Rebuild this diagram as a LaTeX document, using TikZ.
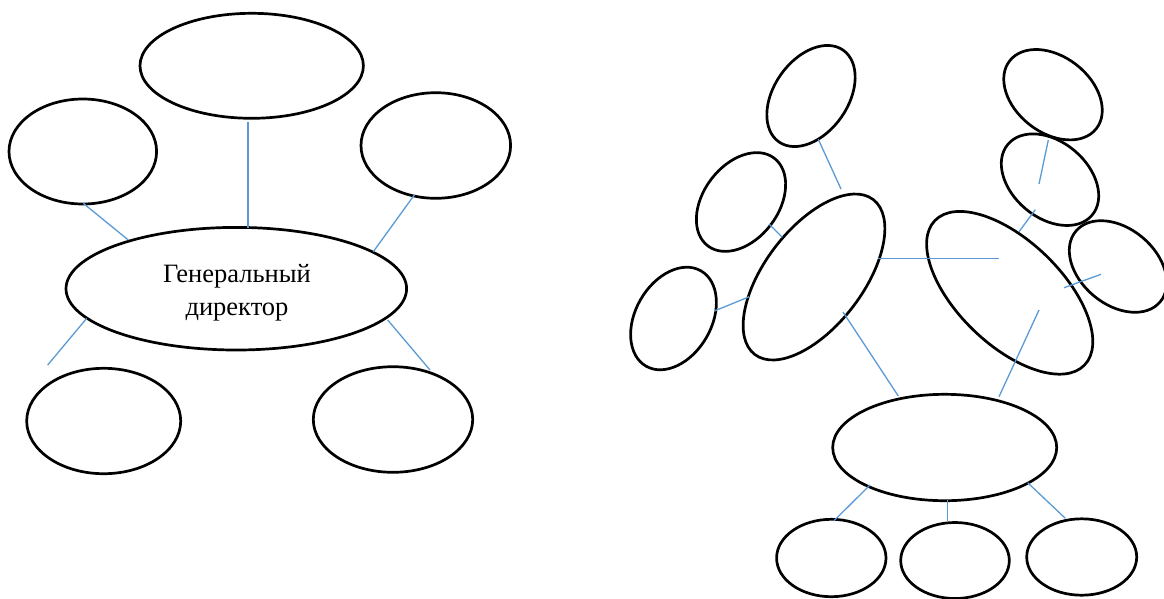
\documentclass[tikz,border=0pt]{standalone}
\usepackage{fontspec}
\setmainfont{Liberation Serif}
\usetikzlibrary{shapes.geometric}

\definecolor{linkblue}{HTML}{5B9BD5}

\tikzset{
  oval/.style={draw=black, line width=2.7pt, ellipse, inner sep=0pt,
               minimum width=#1},
  link/.style={draw=linkblue, line width=1.3pt},
  label/.style={font=\fontsize{26.5}{33}\selectfont, align=center, inner sep=0pt}
}

\begin{document}
\begin{tikzpicture}[x=1pt, y=-1pt]
  \fill[white] (0,0) rectangle (1164,598);
  \useasboundingbox (0,0) rectangle (1164,598);

  % ---- left group: general director and his units ----
  \node[oval=223.4pt, minimum height=105pt] (lt)  at (251.7,65.8)  {};
  \node[oval=147.6pt, minimum height=105pt] (ltl) at (82.8,151.5)  {};
  \node[oval=149.6pt, minimum height=105.6pt] (ltr) at (435.8,145.5) {};
  \node[oval=340.6pt, minimum height=122.6pt] (gd) at (236.3,288.7) {};
  \node[label] (gdtext) at (237,292.5) {Генеральный\\директор};
  \node[oval=154pt, minimum height=105.4pt] (lbl) at (103.7,421) {};
  \node[oval=159.4pt, minimum height=105.6pt] (lbr) at (393,419.5) {};

  \coordinate (a1) at (248,122.3);   \coordinate (a2) at (248,227.7);
  \coordinate (b1) at (83.3,203.3);  \coordinate (b2) at (128.3,240);
  \coordinate (c1) at (414.3,195);   \coordinate (c2) at (373.3,251.7);
  \coordinate (d1) at (86.7,318.3);  \coordinate (d2) at (47.7,365);
  \coordinate (e1) at (387.7,320);   \coordinate (e2) at (430,370);
  \draw[link] (a1) -- (a2);
  \draw[link] (b1) -- (b2);
  \draw[link] (c1) -- (c2);
  \draw[link] (d1) -- (d2);
  \draw[link] (e1) -- (e2);

  % ---- right group ----
  % left branch
  \node[oval=112pt, minimum height=74pt, rotate=55] (r1) at (811,96)    {};
  \node[oval=110pt, minimum height=75pt, rotate=53] (r2) at (741,202)   {};
  \node[oval=110pt, minimum height=76pt, rotate=60] (r3) at (673.5,318.5) {};
  \node[oval=195pt, minimum height=98pt, rotate=52.6] (bl) at (814,277) {};
  % right branch
  \node[oval=110pt, minimum height=76pt, rotate=-38] (r4) at (1053,94.7)  {};
  \node[oval=110pt, minimum height=76pt, rotate=-40] (r5) at (1050,179.7) {};
  \node[oval=110pt, minimum height=76pt, rotate=-40] (r6) at (1118,266.5) {};
  \node[oval=208pt, minimum height=104pt, rotate=-44] (br) at (1009.7,292.8) {};
  % bottom
  \node[oval=224pt, minimum height=106.4pt] (bc)  at (944.7,447.5) {};
  \node[oval=109.4pt, minimum height=77.4pt] (bb1) at (831.3,558)   {};
  \node[oval=108.6pt, minimum height=76pt]   (bb2) at (955,560.5)   {};
  \node[oval=110pt, minimum height=76.4pt]   (bb3) at (1081.7,557)  {};

  \coordinate (f1) at (818.3,139.3); \coordinate (f2) at (841,189);
  \coordinate (g1) at (769,224);     \coordinate (g2) at (782.3,237.3);
  \coordinate (h1) at (714.3,311);   \coordinate (h2) at (749.3,296.7);
  \coordinate (i1) at (878.3,258.3); \coordinate (i2) at (999,258.3);
  \coordinate (j1) at (843,312);     \coordinate (j2) at (898.3,396);
  \coordinate (k1) at (1048.3,140);  \coordinate (k2) at (1039,184);
  \coordinate (l1) at (1035.3,209.7);\coordinate (l2) at (1019,231.7);
  \coordinate (m1) at (1101,274.3);  \coordinate (m2) at (1064,287.7);
  \coordinate (n1) at (1039,310);    \coordinate (n2) at (999,396.7);
  \coordinate (o1) at (870,485);     \coordinate (o2) at (834,520.7);
  \coordinate (p1) at (947.7,500);   \coordinate (p2) at (947.7,520.7);
  \coordinate (q1) at (1027.7,482.7);\coordinate (q2) at (1065.3,518.3);
  \foreach \s/\t in {f1/f2, g1/g2, h1/h2, i1/i2, j1/j2, k1/k2, l1/l2,
                     m1/m2, n1/n2, o1/o2, p1/p2, q1/q2}
    \draw[link] (\s) -- (\t);
\end{tikzpicture}
\end{document}
